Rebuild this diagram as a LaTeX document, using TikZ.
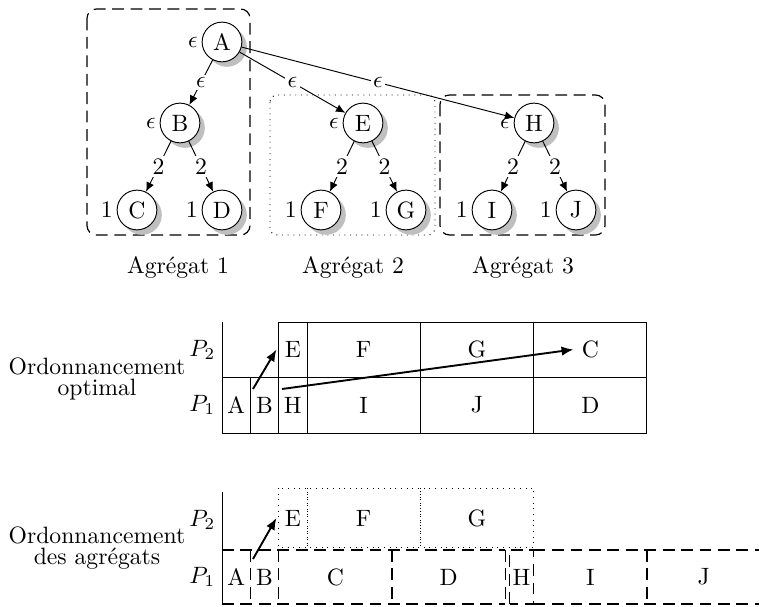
\documentclass[tikz,border=0pt]{standalone}
\usetikzlibrary{arrows.meta,shadows}
\begin{document}
\begin{tikzpicture}[x=0.423pt,y=-0.423pt,
  tn/.style={circle,draw,fill=white,minimum size=16.8pt,inner sep=0pt,
    drop shadow={shadow xshift=2.1pt,shadow yshift=-2.1pt,fill=black!25,opacity=1}},
  lbl/.style={label={[inner sep=1.5pt]left:#1}},
  el/.style={midway,fill=white,inner sep=1pt},
  tedge/.style={-{Latex[length=4pt,width=3.4pt]}},
  sarrow/.style={thick,-{Latex[length=5pt,width=4pt]}},
  aggdash/.style={line width=0.5pt,dash pattern=on 5pt off 2.8pt},
  side/.style={align=center,font=\fontsize{10pt}{9pt}\selectfont},
  plab/.style={anchor=east,inner sep=1pt}]
\useasboundingbox (0,0) rectangle (759,607);

% aggregate boxes
\draw[aggdash,rounded corners=4pt] (87,9) rectangle (250,235);
\draw[dotted,rounded corners=3pt] (270,95) rectangle (435,235);
\draw[aggdash,rounded corners=4pt] (440,95) rectangle (605,235);

% tree
\node[tn,lbl=$\epsilon$] (A) at (222,42) {A};
\node[tn,lbl=$\epsilon$] (B) at (180,123) {B};
\node[tn,lbl=$\epsilon$] (E) at (363,123) {E};
\node[tn,lbl=$\epsilon$] (H) at (534,123) {H};
\node[tn,lbl=1] (C) at (137,210) {C};
\node[tn,lbl=1] (D) at (222,210) {D};
\node[tn,lbl=1] (F) at (321,210) {F};
\node[tn,lbl=1] (G) at (406,210) {G};
\node[tn,lbl=1] (I) at (492,210) {I};
\node[tn,lbl=1] (J) at (576,210) {J};

\draw[tedge] (A) -- node[el]{$\epsilon$} (B);
\draw[tedge] (A) -- node[el]{$\epsilon$} (E);
\draw[tedge] (A) -- node[el]{$\epsilon$} (H);
\draw[tedge] (B) -- node[el]{2} (C);
\draw[tedge] (B) -- node[el]{2} (D);
\draw[tedge] (E) -- node[el]{2} (F);
\draw[tedge] (E) -- node[el]{2} (G);
\draw[tedge] (H) -- node[el]{2} (I);
\draw[tedge] (H) -- node[el]{2} (J);

\node (ag1) at (178,267) {Agrégat 1};
\node (ag2) at (353,267) {Agrégat 2};
\node (ag3) at (523,267) {Agrégat 3};

% optimal schedule
\node[side] (ord1) at (97,379) {Ordonnancement\\optimal};
\node[plab] (op2) at (218,350) {$P_2$};
\node[plab] (op1) at (218,405) {$P_1$};
\draw (222,322) -- (222,433);
\foreach \a/\b/\t in {0/1/A,1/2/B,2/3/H,3/7/I,7/11/J,11/15/D}{
  \draw (222+\a*28.33,377) rectangle (222+\b*28.33,433);
  \node[name=o\t] at ({222+(\a+\b)*14.165},405) {\t};
}
\foreach \a/\b/\t in {2/3/E,3/7/F,7/11/G,11/15/C}{
  \draw (222+\a*28.33,322) rectangle (222+\b*28.33,377);
  \node[name=o\t] at ({222+(\a+\b)*14.165},349.5) {\t};
}
\coordinate (s1) at (253,389);
\coordinate (s2) at (282,389);
\draw[sarrow] (s1) -- (oE.west);
\draw[sarrow] (s2) -- (oC.west);

% aggregate schedule
\node[side] (ord2) at (97,548) {Ordonnancement\\des agrégats};
\node[plab] (ap2) at (218,520) {$P_2$};
\node[plab] (ap1) at (218,577) {$P_1$};
\draw (222,492) -- (222,605);
\foreach \a/\b/\t in {2/3/E,3/7/F,7/11/G}{
  \draw[dotted] (222+\a*28.33,488) rectangle (222+\b*28.33,547);
  \node[name=a\t] at ({222+(\a+\b)*14.165},518) {\t};
}
% aggregate 1 on P1: A B C D
\draw[aggdash] (222,550) -- (222+10*28.33,550);
\draw[aggdash] (222,604) -- (222+10*28.33,604);
\foreach \k in {1,2,6,10}{
  \draw[aggdash] (222+\k*28.33,550) -- (222+\k*28.33,604);
}
% aggregate 3 on P1: H I J
\draw[aggdash] (222+10.15*28.33,604) -- (222+10.15*28.33,550) -- (222+11*28.33,550) -- (222+11*28.33,604) -- cycle;
\draw[aggdash] (222+11*28.33,550) -- (222+19*28.33,550);
\draw[aggdash] (222+11*28.33,604) -- (222+19*28.33,604);
\draw[aggdash] (222+15*28.33,550) -- (222+15*28.33,604);
\foreach \a/\b/\t in {0/1/A,1/2/B,2/6/C,6/10/D,10.15/11/H,11/15/I,15/19/J}{
  \node[name=a\t] at ({222+(\a+\b)*14.165},577) {\t};
}
\coordinate (s3) at (253,559);
\draw[sarrow] (s3) -- (aE.west);
\end{tikzpicture}
\end{document}
